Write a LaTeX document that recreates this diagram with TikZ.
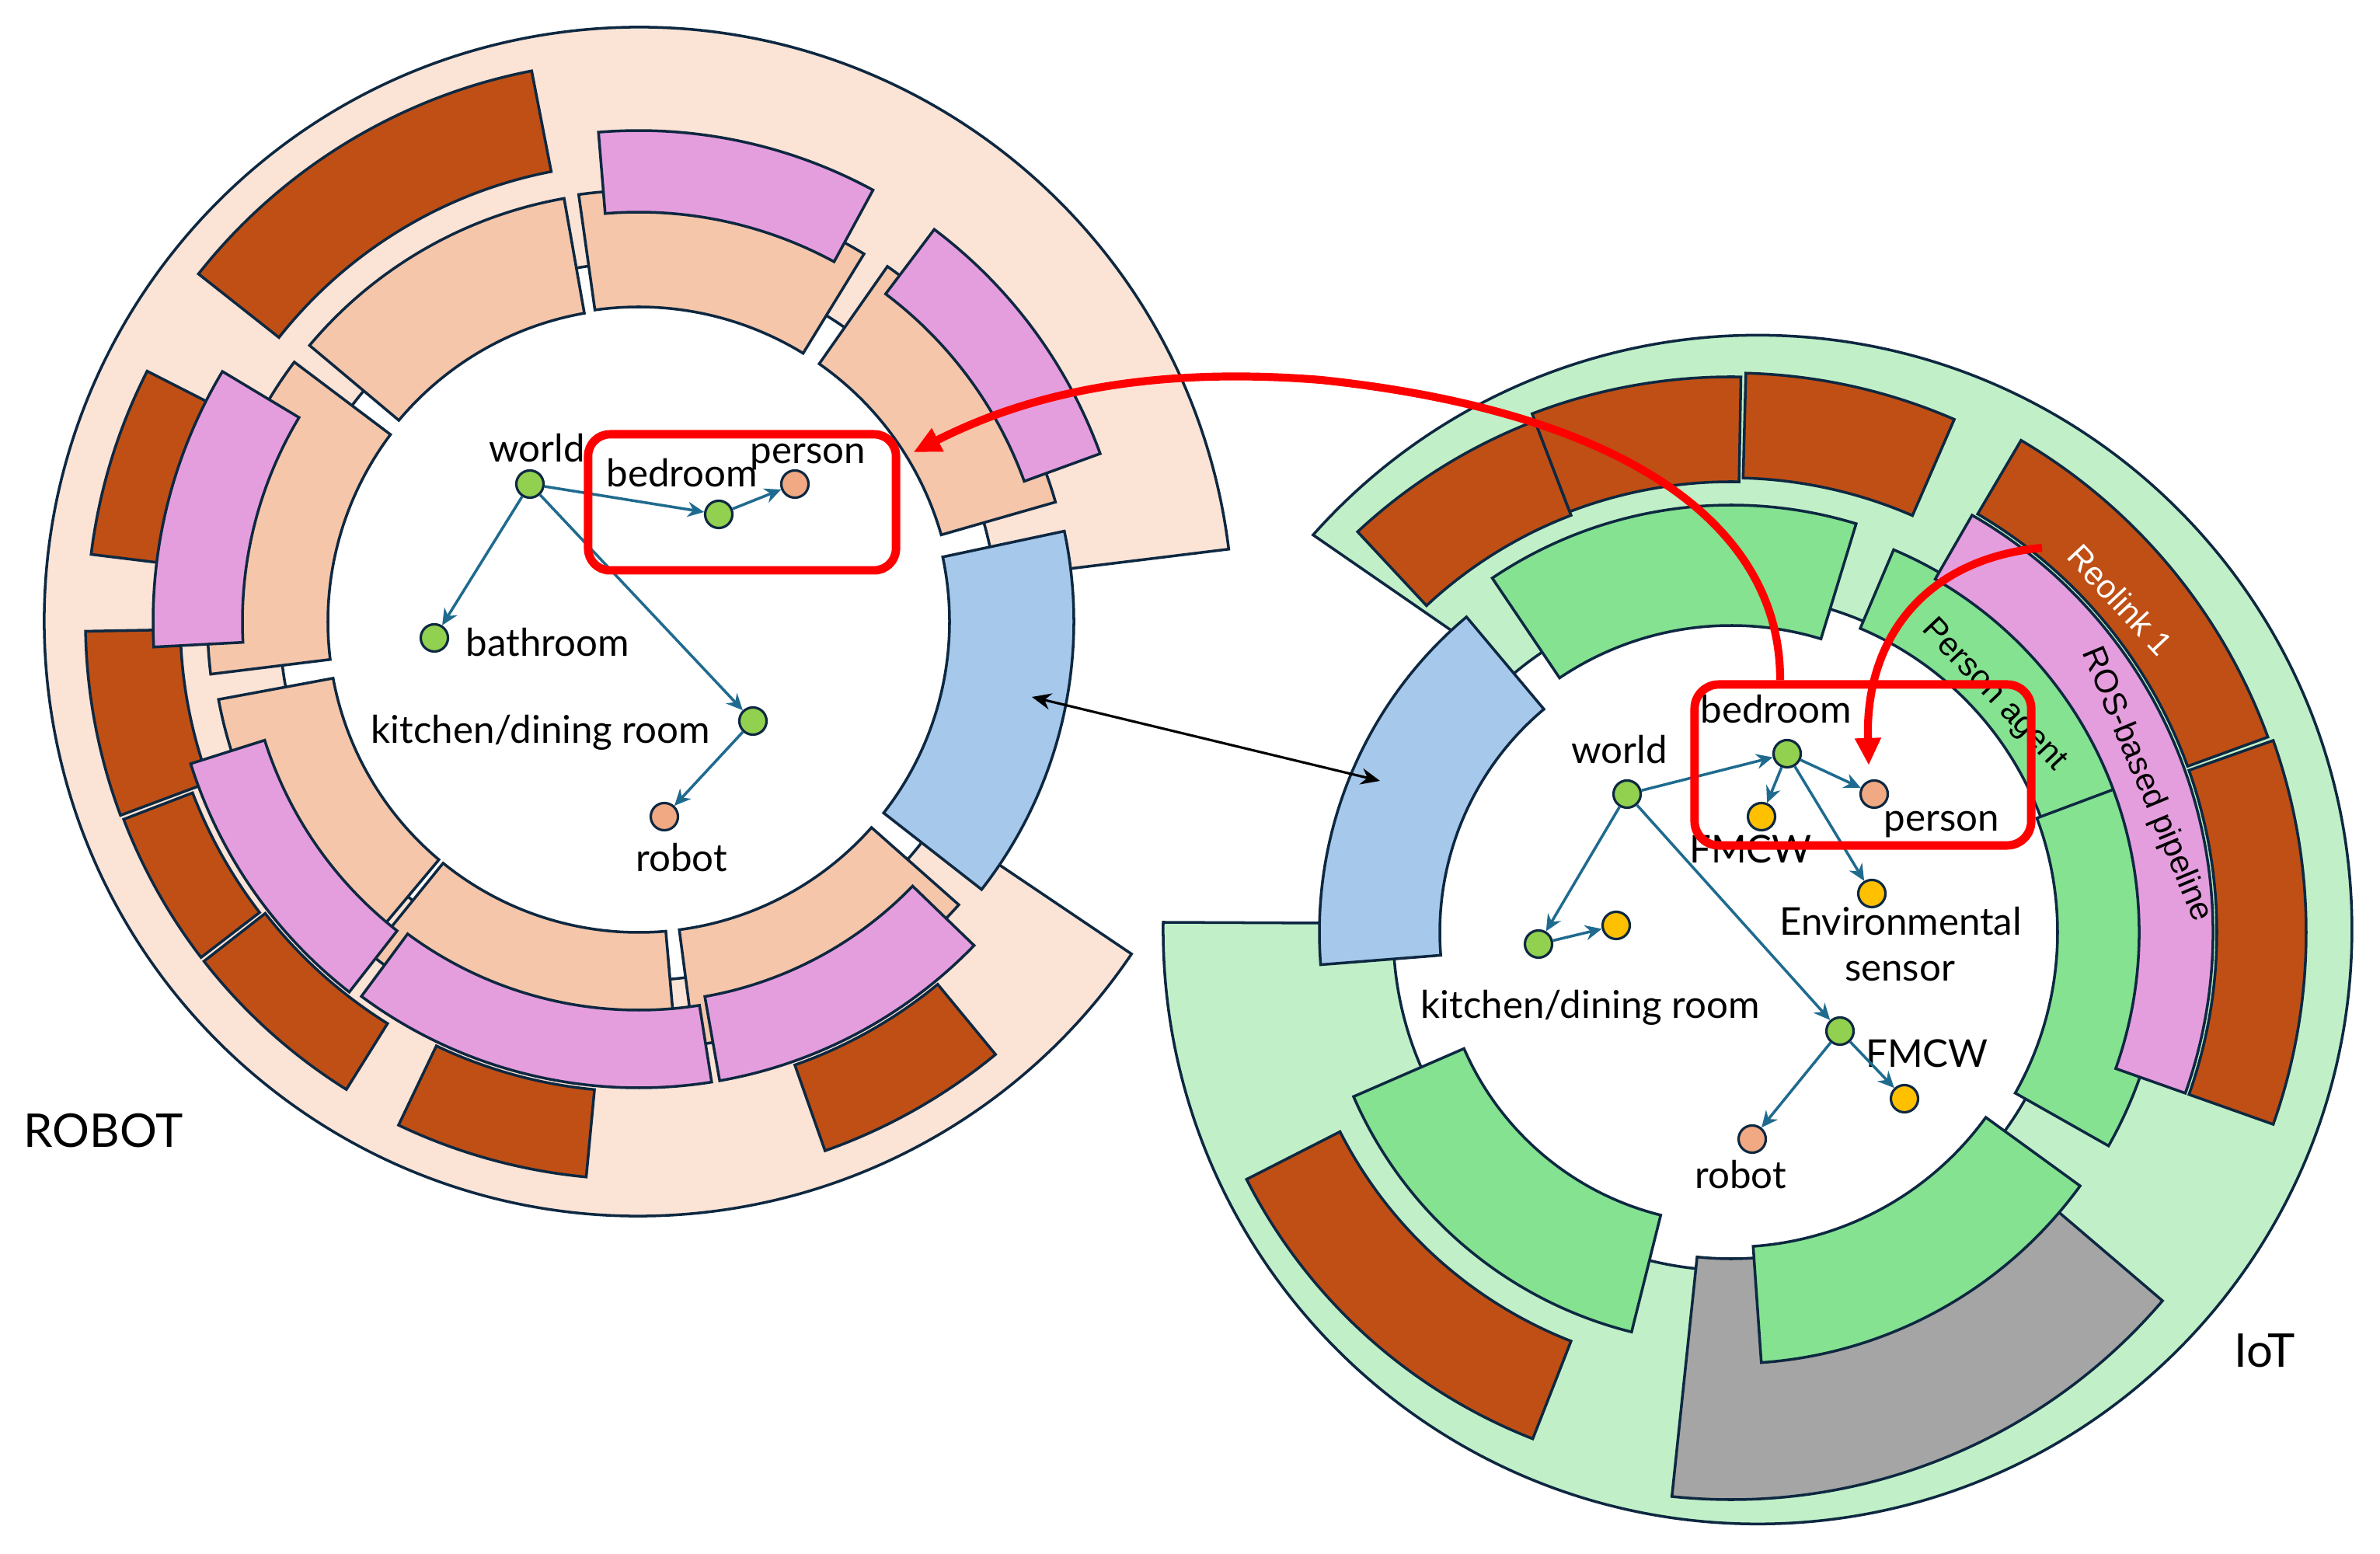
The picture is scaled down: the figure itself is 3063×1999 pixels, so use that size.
\documentclass[tikz,border=0pt]{standalone}
\usepackage{fontspec}
\setmainfont{Lato}
\newfontfamily\arialf{Liberation Sans}
\usetikzlibrary{arrows.meta}
\definecolor{ol}{HTML}{0E2841}
\definecolor{bgL}{HTML}{FBE3D6}
\definecolor{sal}{HTML}{F5C6AA}
\definecolor{pnk}{HTML}{E59EDD}
\definecolor{org}{HTML}{BF4F15}
\definecolor{blu}{HTML}{A5C8EB}
\definecolor{bgR}{HTML}{C1F0C8}
\definecolor{grn}{HTML}{84E291}
\definecolor{gry}{HTML}{A5A5A5}
\definecolor{ngreen}{HTML}{92D050}
\definecolor{nsal}{HTML}{F1A983}
\definecolor{nyel}{HTML}{FFC000}
\definecolor{edgec}{HTML}{1F6B8F}
\definecolor{myred}{HTML}{FF0000}
\newcommand{\annsec}[6]{\draw[seg,#6] ([shift={(#4:#3)}]#1) arc[start angle=#4, end angle=#5, radius=#3] -- ([shift={(#5:#2)}]#1) arc[start angle=#5, end angle=#4, radius=#2] -- cycle;}
\tikzset{
  seg/.style={draw=ol, line width=1pt, line join=miter},
  gn/.style={circle, draw=ol, line width=0.9pt, fill=ngreen, minimum size=0.35cm, inner sep=0pt},
  sn/.style={gn, fill=nsal},
  yn/.style={gn, fill=nyel},
  lbl/.style={font=\fontsize{14}{16}\selectfont, inner sep=0pt, anchor=base},
  arclbl/.style={font=\arialf\fontsize{12}{14}\selectfont, inner sep=0pt},
  ed/.style={draw=edgec, line width=1pt, -{Stealth[length=6pt,width=5.5pt]}},
  rbox/.style={draw=myred, line width=3.1pt, rectangle, inner sep=0pt},
  rarrow/.style={draw=myred, line width=2.9pt, -{Triangle[length=10pt,width=9pt]}},
}
\begin{document}
\begin{tikzpicture}[x=0.01cm, y=0.01cm]
\useasboundingbox (0,0) rectangle (3063,1999);
\fill[white] (0,0) rectangle (3063,1999);
\coordinate (CL) at (822,1199);
\coordinate (CR) at (2228,799);
\coordinate (CRb) at (2262,803);
% ---------------- left (ROBOT) ----------------
\draw[seg, fill=bgL] ([shift={(7:765)}]CL) arc[start angle=7, end angle=326, radius=765] -- ([shift={(326:555)}]CL) arc[start angle=326, end angle=367, radius=555] -- cycle;
\draw[seg, fill=white] (CL) circle[radius=462];
\annsec{CL}{403}{553}{100}{140}{fill=sal}
\annsec{CL}{405}{555}{58.5}{98}{fill=sal}
\annsec{CL}{405}{558}{16}{55}{fill=sal}
\annsec{CL}{400}{550}{-82.5}{-41.5}{fill=sal}
\annsec{CL}{400}{550}{-129}{-85}{fill=sal}
\annsec{CL}{400}{550}{-169.5}{-130}{fill=sal}
\annsec{CL}{400}{555}{143}{187}{fill=sal}
\annsec{CL}{400}{560}{-38}{12}{fill=blu}
\annsec{CL}{590}{722}{101}{141.7}{fill=org}
\annsec{CL}{615}{710}{153}{173}{fill=org}
\annsec{CL}{590}{712}{181}{200.5}{fill=org}
\annsec{CL}{615}{710}{201}{217.5}{fill=org}
\annsec{CL}{610}{710}{218}{238}{fill=org}
\annsec{CL}{605}{718}{244.5}{264.6}{fill=org}
\annsec{CL}{605}{722}{-70.6}{-50.5}{fill=org}
\annsec{CL}{527}{632}{61.5}{94.7}{fill=pnk}
\annsec{CL}{528}{632}{20}{53}{fill=pnk}
\annsec{CL}{490}{600}{-80}{-44}{fill=pnk}
\annsec{CL}{500}{600}{-126.5}{-81}{fill=pnk}
\annsec{CL}{505}{605}{-162.4}{-128}{fill=pnk}
\annsec{CL}{510}{625}{149}{183}{fill=pnk}
% ---------------- right (IoT) ----------------
\draw[seg, fill=bgR] (1702,811) -- (1497,812) arc[start angle=179.3, end angle=498.4, radius=765] -- (1944,1135) -- cycle;
\draw[seg, fill=white] (CR) circle[radius=435];
\annsec{CR}{420}{730}{264}{319.5}{fill=gry}
\annsec{CR}{375}{530}{130}{184.5}{fill=blu}
\annsec{CR}{395}{550}{73}{124}{fill=grn}
\annsec{CR}{425}{535}{20}{67}{fill=grn}
\annsec{CR}{420}{558}{-29.5}{20.5}{fill=grn}
\annsec{CR}{375}{530}{203.5}{256}{fill=grn}
\annsec{CR}{405}{555}{274}{324}{fill=grn}
\annsec{CR}{525}{620}{-19.5}{60}{fill=pnk}
\annsec{CR}{625}{735}{20}{59.5}{fill=org}
\annsec{CR}{625}{740}{-19.5}{19.5}{fill=org}
\annsec{CR}{575}{705}{111}{133}{fill=org}
\annsec{CR}{580}{715}{89}{111}{fill=org}
\annsec{CR}{585}{720}{66.5}{88.5}{fill=org}
\annsec{CR}{565}{700}{207}{248.6}{fill=org}
\node[arclbl, rotate=-47, text=white] (treo) at (2729,1227) {Reolink 1};
\node[arclbl, rotate=-67.4] (tros) at (2762,989) {ROS-based pipeline};
\node[arclbl, rotate=-46.7] (tpa) at (2566,1104) {Person agent};
% ---------------- left graph ----------------
\node[lbl] (tLworld) at (691,1404) {world};
\node[lbl] (tLbed) at (878,1372) {bedroom};
\node[lbl] (tLperson) at (1040,1402) {person};
\node[lbl] (tLbath) at (705,1154) {bathroom};
\node[lbl] (tLkit) at (696,1042) {kitchen/dining room};
\node[lbl] (tLrobot) at (877,877) {robot};
\node[gn] (Lworld) at (682,1376) {};
\node[gn] (Lbed) at (925,1337) {};
\node[sn] (Lperson) at (1023,1376) {};
\node[gn] (Lbath) at (559,1178) {};
\node[gn] (Lkit) at (969,1071) {};
\node[sn] (Lrobot) at (855,948) {};
\draw[ed] (Lworld) -- (Lbed);
\draw[ed] (Lbed) -- (Lperson);
\draw[ed] (Lworld) -- (Lbath);
\draw[ed] (Lworld) -- (Lkit);
\draw[ed] (Lkit) -- (Lrobot);
% ---------------- right graph ----------------
\node[lbl] (tRworld) at (2084,1016) {world};
\node[lbl] (tRbed) at (2286,1068) {bedroom};
\node[lbl] (tRperson) at (2499,929) {person};
\node[lbl] (tRfmcw1) at (2253,888) {FMCW};
\node[lbl] (tRenv) at (2446,795) {Environmental};
\node[lbl] (tRsens) at (2445,736) {sensor};
\node[lbl] (tRkit) at (2047,689) {kitchen/dining room};
\node[lbl] (tRfmcw2) at (2480,625) {FMCW};
\node[lbl] (tRrobot) at (2240,469) {robot};
\node[gn] (Rworld) at (2094,977) {};
\node[gn] (Rbed) at (2300,1029) {};
\node[yn] (Rfmcw1) at (2267,948) {};
\node[sn] (Rperson) at (2412,977) {};
\node[yn] (Renv) at (2409,849) {};
\node[gn] (Rkit) at (1980,784) {};
\node[yn] (Rkity) at (2080,808) {};
\node[gn] (Rfmcw2) at (2368,672) {};
\node[yn] (Rfmcw2y) at (2451,585) {};
\node[sn] (Rrobot) at (2255,533) {};
\draw[ed] (Rworld) -- (Rbed);
\draw[ed] (Rbed) -- (Rfmcw1);
\draw[ed] (Rbed) -- (Rperson);
\draw[ed] (Rbed) -- (Renv);
\draw[ed] (Rworld) -- (Rkit);
\draw[ed] (Rkit) -- (Rkity);
\draw[ed] (Rworld) -- (Rfmcw2);
\draw[ed] (Rfmcw2) -- (Rfmcw2y);
\draw[ed] (Rfmcw2) -- (Rrobot);
% ---------------- boxes and arrows ----------------
\node[rbox, minimum width=3.96cm, minimum height=1.75cm, rounded corners=0.28cm] (Lbox) at (955,1352.5) {};
\node[rbox, minimum width=4.33cm, minimum height=2.07cm, rounded corners=0.31cm] (Rbox) at (2397.5,1014.5) {};
\coordinate (dL) at (1328,1102);
\coordinate (dR) at (1776,994);
\draw[black, line width=0.9pt, {Stealth[length=7pt,width=6pt]}-{Stealth[length=7pt,width=6pt]}] (dL) -- (dR);
\coordinate (a1s) at ([xshift=-1.065cm]Rbox.north);
\coordinate (a1e) at ([xshift=0.17cm,yshift=0.645cm]Lbox.east);
\draw[rarrow] (a1s) .. controls (2292,1330) and (2080,1470) .. (1700,1510) .. controls (1450,1530) and (1300,1480) .. (a1e);
\coordinate (a2s) at (2628,1294);
\coordinate (a2e) at (2405,1014);
\draw[rarrow] (a2s) .. controls (2480,1280) and (2400,1180) .. (a2e);
\node[font=\fontsize{17}{20}\selectfont, anchor=base west, inner sep=0pt] (tRobotLbl) at (30,523) {ROBOT};
\node[font=\fontsize{17}{20}\selectfont, anchor=base west, inner sep=0pt] (tIoT) at (2875,240) {IoT};
\end{tikzpicture}
\end{document}
